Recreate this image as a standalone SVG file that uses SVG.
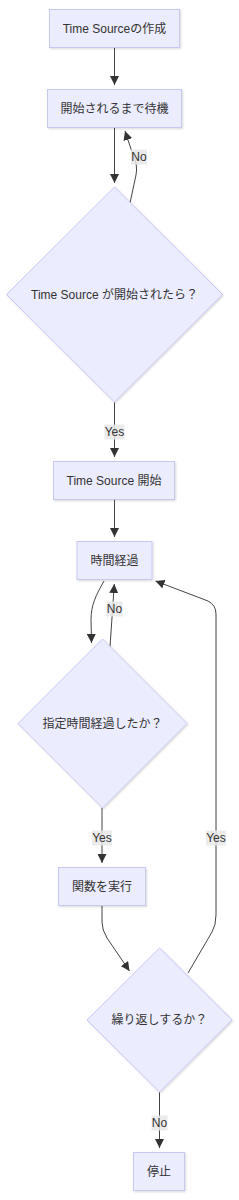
<svg xmlns="http://www.w3.org/2000/svg" width="239" height="1200" viewBox="0 0 239 1200">
<style>
.node rect,.node polygon{fill:#ECECFF;stroke:#C8C8F5;stroke-width:1;filter:url(#sh);}
.node text{font-family:"Liberation Sans","Noto Sans CJK JP",sans-serif;font-size:12px;fill:#333;text-anchor:middle;dominant-baseline:central;}
.edges path{fill:none;stroke:#444;stroke-width:1;}
.lbl rect{fill:#E8E8E8;opacity:0.85;}
.lbl text{font-family:"Liberation Sans",sans-serif;font-size:12px;fill:#333;text-anchor:middle;dominant-baseline:central;}
</style>
<defs>
<filter id="sh" x="-10%" y="-10%" width="130%" height="130%">
<feDropShadow dx="1" dy="1" stdDeviation="1" flood-color="#000" flood-opacity="0.15"/>
</filter>
<marker id="arr" viewBox="0 0 10 10" refX="10" refY="5" markerWidth="9" markerHeight="9" markerUnits="userSpaceOnUse" orient="auto">
<path d="M0,0 L10,5 L0,10 z" fill="#333"/>
</marker>
</defs>
<g class="edges">
<path d="M114.5,47.5 L114.5,85" marker-end="url(#arr)"/>
<path d="M114.5,127.5 L114.5,183" marker-end="url(#arr)"/>
<path d="M130,203 L136,175 Q138,165 133,155 L125,131" marker-end="url(#arr)"/>
<path d="M114.5,402 L114.5,457" marker-end="url(#arr)"/>
<path d="M114.5,500 L114.5,537" marker-end="url(#arr)"/>
<path d="M104,581 C96,595 91,605 91,620 L91.5,643" marker-end="url(#arr)"/>
<path d="M110,647 L114.3,584" marker-end="url(#arr)"/>
<path d="M102,808 L102,863" marker-end="url(#arr)"/>
<path d="M102,906 L102,922 Q102,930 107,938 L129.5,971" marker-end="url(#arr)"/>
<path d="M188,973 L212,932 Q216,925 216,915 L216,614 Q216,605 208,601 L155.5,581" marker-end="url(#arr)"/>
<path d="M159.5,1092 L159.5,1148" marker-end="url(#arr)"/>
</g>
<g class="lbl">
<g id="l1"><rect x="131" y="149.5" width="16" height="15"/><text x="139" y="157">No</text></g>
<g id="l2"><rect x="104.5" y="424.5" width="20" height="15"/><text x="114.5" y="432">Yes</text></g>
<g id="l3"><rect x="106.5" y="601.5" width="16" height="15"/><text x="114.5" y="609">No</text></g>
<g id="l4"><rect x="92" y="830.5" width="20" height="15"/><text x="102" y="838">Yes</text></g>
<g id="l5"><rect x="206" y="830.5" width="20" height="15"/><text x="216" y="838">Yes</text></g>
<g id="l6"><rect x="151.5" y="1115.5" width="16" height="15"/><text x="159.5" y="1123">No</text></g>
</g>
<g id="A" class="node"><rect x="49.5" y="9.5" width="130" height="38"/><text x="114.5" y="28.5">Time Sourceの作成</text></g>
<g id="B" class="node"><rect x="47.5" y="89.5" width="134" height="38"/><text x="114.5" y="108.5">開始されるまで待機</text></g>
<g id="C" class="node"><polygon points="114.5,187 222.5,294.5 114.5,402 6.5,294.5"/><text x="114.5" y="294.5">Time Source が開始されたら？</text></g>
<g id="D" class="node"><rect x="53.5" y="461.5" width="121" height="38"/><text x="114" y="480.5">Time Source 開始</text></g>
<g id="E" class="node"><rect x="77" y="541.5" width="75" height="38"/><text x="114.5" y="560.5">時間経過</text></g>
<g id="F" class="node"><polygon points="102.5,639 187,723.5 102.5,808 18,723.5"/><text x="102.5" y="723.5">指定時間経過したか？</text></g>
<g id="G" class="node"><rect x="58.5" y="867.5" width="87" height="38"/><text x="102" y="886.5">関数を実行</text></g>
<g id="H" class="node"><polygon points="159.5,948 232,1020 159.5,1092 87,1020"/><text x="159.5" y="1020">繰り返しするか？</text></g>
<g id="I" class="node"><rect x="133.5" y="1152.5" width="51" height="38"/><text x="159" y="1171.5">停止</text></g>
</svg>
